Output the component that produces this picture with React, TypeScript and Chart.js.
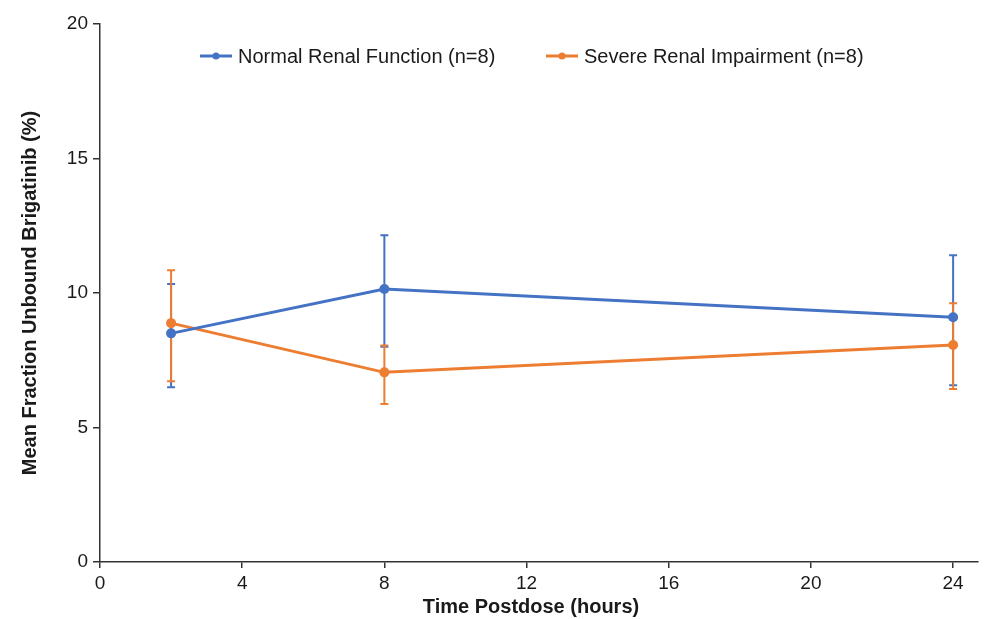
import React, { useEffect, useRef } from "react";
import { Chart, registerables } from "chart.js";

Chart.register(...registerables);

const timeHours = [2, 8, 24];
const seriesNames = ["Normal Renal Function (n=8)", "Severe Renal Impairment (n=8)"];
const normalMean = [8.5, 10.15, 9.1];
const normalUpper = [10.33, 12.15, 11.4];
const normalLower = [6.5, 8.0, 6.57];
const severeMean = [8.88, 7.05, 8.07];
const severeUpper = [10.85, 8.05, 9.62];
const severeLower = [6.72, 5.87, 6.43];
const xTicks = [0, 4, 8, 12, 16, 20, 24];
const yTicks = [0, 5, 10, 15, 20];
const xTitle = "Time Postdose (hours)";
const yTitle = "Mean Fraction Unbound Brigatinib (%)";

const BLUE = "#4472C4";
const ORANGE = "#ED7D31";
const FONT = "'Liberation Sans', Arial, sans-serif";

const errorBarPlugin = {
  id: "errorBars",
  beforeDatasetsDraw(chart: any) {
    const { ctx, scales } = chart;
    const xs = scales.x;
    const ys = scales.y;
    chart.data.datasets.forEach((ds: any) => {
      const up: number[] = ds.errUpper;
      const lo: number[] = ds.errLower;
      ctx.save();
      ctx.strokeStyle = ds.borderColor;
      ctx.lineWidth = 2;
      ds.data.forEach((p: any, i: number) => {
        const x = xs.getPixelForValue(p.x);
        const yt = ys.getPixelForValue(up[i]);
        const yb = ys.getPixelForValue(lo[i]);
        ctx.beginPath();
        ctx.moveTo(x, yt);
        ctx.lineTo(x, yb);
        ctx.moveTo(x - 4, yt);
        ctx.lineTo(x + 4, yt);
        ctx.moveTo(x - 4, yb);
        ctx.lineTo(x + 4, yb);
        ctx.stroke();
      });
      ctx.restore();
    });
  },
};

const legendPlugin = {
  id: "customLegend",
  afterDraw(chart: any) {
    const { ctx, chartArea } = chart;
    const items = [
      { x: 200, color: BLUE, text: seriesNames[0] },
      { x: 546, color: ORANGE, text: seriesNames[1] },
    ];
    const y = 56;
    ctx.save();
    items.forEach((it) => {
      ctx.strokeStyle = it.color;
      ctx.fillStyle = it.color;
      ctx.lineWidth = 3;
      ctx.beginPath();
      ctx.moveTo(it.x, y);
      ctx.lineTo(it.x + 32, y);
      ctx.stroke();
      ctx.beginPath();
      ctx.arc(it.x + 16, y, 3.5, 0, Math.PI * 2);
      ctx.fill();
      ctx.fillStyle = "#1a1a1a";
      ctx.font = `20px ${FONT}`;
      ctx.textBaseline = "middle";
      ctx.textAlign = "left";
      ctx.fillText(it.text, it.x + 38, y + 1);
    });
    // x axis title
    ctx.fillStyle = "#1a1a1a";
    ctx.font = `bold 20px ${FONT}`;
    ctx.textAlign = "center";
    ctx.textBaseline = "middle";
    ctx.fillText(xTitle, (chartArea.left + chartArea.right) / 2 - 8, 607);
    ctx.restore();
  },
};

export default function App() {
  const ref = useRef<HTMLCanvasElement>(null);

  useEffect(() => {
    document.body.style.margin = "0";
    const canvas = ref.current!;
    const mk = (mean: number[]) => mean.map((v, i) => ({ x: timeHours[i], y: v }));
    const chart = new Chart(canvas, {
      type: "line",
      data: {
        datasets: [
          {
            label: seriesNames[0],
            data: mk(normalMean),
            borderColor: BLUE,
            backgroundColor: BLUE,
            borderWidth: 3,
            pointRadius: 5,
            pointBorderWidth: 0,
            pointBackgroundColor: BLUE,
            tension: 0,
            errUpper: normalUpper,
            errLower: normalLower,
          } as any,
          {
            label: seriesNames[1],
            data: mk(severeMean),
            borderColor: ORANGE,
            backgroundColor: ORANGE,
            borderWidth: 3,
            pointRadius: 5,
            pointBorderWidth: 0,
            pointBackgroundColor: ORANGE,
            tension: 0,
            errUpper: severeUpper,
            errLower: severeLower,
          } as any,
        ],
      },
      options: {
        responsive: false,
        animation: false,
        layout: { padding: { left: 0, right: 15, top: 24, bottom: 0 } },
        plugins: { legend: { display: false }, tooltip: { enabled: false } },
        scales: {
          x: {
            type: "linear",
            min: 0,
            max: 24.7,
            afterBuildTicks: (s: any) => {
              s.ticks = xTicks.map((v) => ({ value: v }));
            },
            afterFit: (s: any) => {
              s.height = 57;
            },
            ticks: {
              font: { family: FONT, size: 19 },
              color: "#1a1a1a",
              padding: 4,
              maxRotation: 0,
            },
            grid: {
              display: true,
              drawOnChartArea: false,
              drawTicks: true,
              tickLength: 6,
              color: "#333",
              lineWidth: 1.5,
            },
            border: { display: true, color: "#333", width: 1.5 },
            title: { display: false, text: xTitle },
          },
          y: {
            type: "linear",
            min: 0,
            max: 20,
            afterBuildTicks: (s: any) => {
              s.ticks = yTicks.map((v) => ({ value: v }));
            },
            afterFit: (s: any) => {
              s.width = 100;
            },
            ticks: {
              font: { family: FONT, size: 19 },
              color: "#1a1a1a",
              padding: 5,
            },
            grid: {
              display: true,
              drawOnChartArea: false,
              drawTicks: true,
              tickLength: 7,
              color: "#333",
              lineWidth: 1.5,
            },
            border: { display: true, color: "#333", width: 1.5 },
            title: {
              display: true,
              text: yTitle,
              font: { family: FONT, size: 20, weight: "bold" },
              color: "#1a1a1a",
              padding: { top: 18, bottom: 0 },
            },
          },
        },
      },
      plugins: [errorBarPlugin, legendPlugin],
    });
    return () => chart.destroy();
  }, []);

  return (
    <div style={{ position: "fixed", left: 0, top: 0, width: 993, height: 619, background: "#fff" }}>
      <canvas ref={ref} width={993} height={619} style={{ display: "block" }} />
    </div>
  );
}
